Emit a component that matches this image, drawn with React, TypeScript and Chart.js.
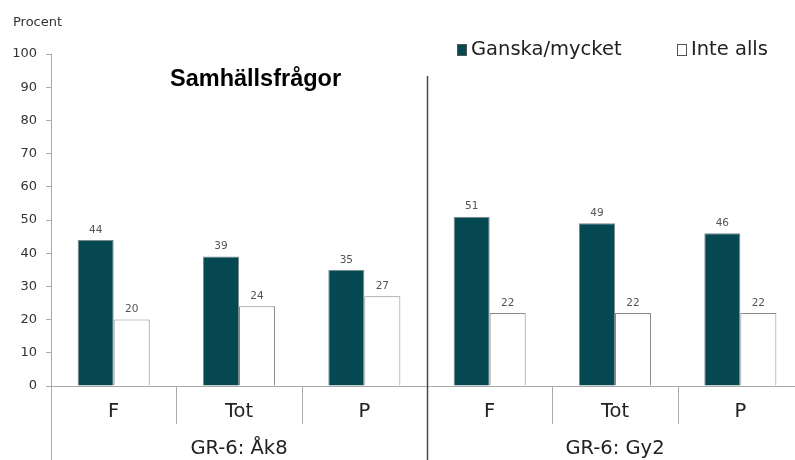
import React, { useEffect, useRef } from "react";
import { Chart, registerables } from "chart.js";

Chart.register(...registerables);

const categories = ["F", "Tot", "P", "F", "Tot", "P"];
const groups = ["GR-6: Åk8", "GR-6: Gy2"];
const ganska = [44, 39, 35, 51, 49, 46];
const inteAlls = [20, 24, 27, 22, 22, 22];
const seriesNames = ["Ganska/mycket", "Inte alls"];
const title = "Samhällsfrågor";
const yTitle = "Procent";

const DARK = "#064852";
const FONT = "'DejaVu Sans', Verdana, sans-serif";

const overlay = {
  id: "overlay",
  afterDraw(chart: any) {
    const { ctx, chartArea, scales } = chart;
    const x = scales.x;
    const bottom = chartArea.bottom;
    const left = chartArea.left;
    ctx.save();
    // data labels
    ctx.font = `10.5px ${FONT}`;
    ctx.fillStyle = "#555";
    ctx.textAlign = "center";
    ctx.textBaseline = "middle";
    chart.data.datasets.forEach((ds: any, di: number) => {
      const meta = chart.getDatasetMeta(di);
      meta.data.forEach((bar: any, i: number) => {
        ctx.fillText(String(ds.data[i]), bar.x, bar.y - 10);
      });
    });
    // x axis separators and labels
    const n = categories.length;
    const half = (x.getPixelForValue(1) - x.getPixelForValue(0)) / 2;
    ctx.strokeStyle = "#aaa";
    ctx.lineWidth = 1;
    ctx.beginPath();
    ctx.moveTo(left, bottom + 0.5);
    ctx.lineTo(chart.width, bottom + 0.5);
    // y axis extension
    ctx.moveTo(left + 0.5, bottom);
    ctx.lineTo(left + 0.5, chart.height);
    for (let i = 1; i < n; i++) {
      if (i === 3) continue;
      const px = Math.round(x.getPixelForValue(i) - half) + 0.5;
      ctx.moveTo(px, bottom);
      ctx.lineTo(px, bottom + 38);
    }
    ctx.stroke();
    ctx.fillStyle = "#222";
    ctx.font = `19.5px ${FONT}`;
    ctx.textBaseline = "middle";
    categories.forEach((c, i) => {
      ctx.fillText(c, x.getPixelForValue(i), bottom + 26);
    });
    ctx.font = `19.5px ${FONT}`;
    groups.forEach((g, gi) => {
      const cx = (x.getPixelForValue(gi * 3) + x.getPixelForValue(gi * 3 + 2)) / 2;
      ctx.fillText(g, cx, bottom + 63);
    });
    // divider
    const dx = Math.round(x.getPixelForValue(3) - half) + 0.5;
    ctx.strokeStyle = "#444b4d";
    ctx.lineWidth = 1.5;
    ctx.beginPath();
    ctx.moveTo(dx, 76);
    ctx.lineTo(dx, chart.height);
    ctx.stroke();
    // title
    ctx.font = `bold 23.5px 'Liberation Sans', Arial, sans-serif`;
    ctx.fillStyle = "#000";
    ctx.textAlign = "left";
    ctx.fillText(title, 170, 80);
    // y title
    ctx.font = `13px ${FONT}`;
    ctx.fillStyle = "#333";
    ctx.fillText(yTitle, 13, 23);
    // legend
    ctx.font = `19.5px ${FONT}`;
    const legend = [
      { x: 457, color: DARK, name: seriesNames[0] },
      { x: 677, color: "#fff", name: seriesNames[1] },
    ];
    legend.forEach((l) => {
      ctx.fillStyle = l.color;
      ctx.fillRect(l.x, 44, 9, 12);
      ctx.strokeStyle = "#555";
      ctx.lineWidth = 1;
      ctx.strokeRect(l.x + 0.5, 44.5, 9, 11);
      ctx.fillStyle = "#222";
      ctx.fillText(l.name, l.x + 14, 50);
    });
    ctx.restore();
  },
};

export default function App() {
  const ref = useRef<HTMLCanvasElement>(null);
  useEffect(() => {
    if (!ref.current) return;
    const chart = new Chart(ref.current, {
      type: "bar",
      data: {
        labels: categories,
        datasets: [
          {
            label: seriesNames[0],
            data: ganska,
            backgroundColor: DARK,
            borderColor: "#7a8a8c",
            borderWidth: 1,
            categoryPercentage: 0.575,
            barPercentage: 1,
          },
          {
            label: seriesNames[1],
            data: inteAlls,
            backgroundColor: "#fff",
            borderColor: "#888",
            borderWidth: 1,
            categoryPercentage: 0.575,
            barPercentage: 1,
          },
        ],
      },
      options: {
        animation: false,
        responsive: false,
        maintainAspectRatio: false,
        layout: { padding: { top: 54, bottom: 74, left: 0, right: 7 } },
        plugins: { legend: { display: false }, tooltip: { enabled: false } },
        scales: {
          x: {
            display: false,
          },
          y: {
            min: 0,
            max: 100,
            ticks: {
              stepSize: 10,
              color: "#333",
              font: { family: "'DejaVu Sans', Verdana, sans-serif", size: 13 },
              padding: 9,
            },
            grid: { drawOnChartArea: false, drawTicks: true, tickLength: 5, color: "#aaa" },
            border: { display: true, color: "#aaa" },
            afterFit(scale: any) {
              scale.width = 51;
            },
          },
        },
      },
      plugins: [overlay],
    });
    return () => chart.destroy();
  }, []);
  return (
    <div style={{ position: "fixed", left: 0, top: 0, width: 795, height: 460, overflow: "hidden", background: "#fff" }}>
      <canvas ref={ref} width={810} height={460} style={{ display: "block", width: 810, height: 460 }} />
    </div>
  );
}
